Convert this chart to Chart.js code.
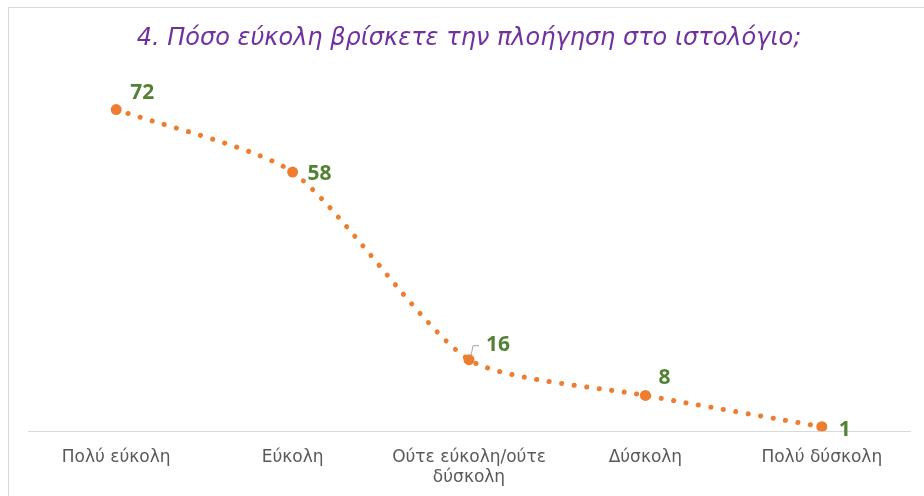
<!DOCTYPE html>
<html>
<head>
<meta charset="utf-8">
<script src="https://cdn.jsdelivr.net/npm/chart.js@4"></script>
<style>
  html, body { margin: 0; padding: 0; background: #fff; }
  #wrap { width: 924px; height: 496px; position: relative; }
</style>
</head>
<body>
<div id="wrap"><canvas id="navChart" width="924" height="496"></canvas></div>
<script>
const categories = ["Πολύ εύκολη", "Εύκολη", ["Ούτε εύκολη/ούτε", "δύσκολη"], "Δύσκολη", "Πολύ δύσκολη"];
const responses = [72, 58, 16, 8, 1];
const chartTitle = "4. Πόσο εύκολη βρίσκετε την πλοήγηση στο ιστολόγιο;";

// label nudges (dx, dy from the point), like the hand-moved labels in the original
const labelNudge = [[14, -17], [15, 2], [17, -15], [13, -17], [17, 3]];

// the chart frame is cropped: only its top and left edges show
const frameEdge = {
  id: "frameEdge",
  beforeDraw(chart) {
    const ctx = chart.ctx;
    ctx.save();
    ctx.strokeStyle = "#d9d9d9";
    ctx.lineWidth = 1;
    ctx.beginPath();
    ctx.moveTo(8.5, chart.height);
    ctx.lineTo(8.5, 7.5);
    ctx.lineTo(chart.width, 7.5);
    ctx.stroke();
    ctx.restore();
  },
};

const valueLabels = {
  id: "valueLabels",
  afterDatasetsDraw(chart) {
    const ctx = chart.ctx;
    const meta = chart.getDatasetMeta(0);
    ctx.save();
    ctx.font = "bold 21px 'Noto Sans', sans-serif";
    ctx.fillStyle = "#548235";
    ctx.textBaseline = "middle";
    ctx.textAlign = "left";
    meta.data.forEach(function (pt, i) {
      const n = labelNudge[i] || [12, -14];
      ctx.fillText(String(responses[i]), pt.x + n[0], pt.y + n[1]);
    });
    // leader line for the third label
    const p = meta.data[2];
    if (p) {
      ctx.strokeStyle = "#a6a6a6";
      ctx.lineWidth = 1;
      ctx.beginPath();
      ctx.moveTo(p.x + 2, p.y - 4);
      ctx.lineTo(p.x + 4, p.y - 14);
      ctx.lineTo(p.x + 10, p.y - 14);
      ctx.stroke();
    }
    ctx.restore();
  },
};

new Chart(document.getElementById("navChart").getContext("2d"), {
  type: "line",
  data: {
    labels: categories,
    datasets: [
      {
        data: responses,
        borderColor: "#ED7D31",
        backgroundColor: "#ED7D31",
        borderWidth: 5,
        borderDash: [0.1, 12.5],
        borderCapStyle: "round",
        tension: 0.22,
        pointRadius: 5.5,
        pointHoverRadius: 5.5,
        pointBorderWidth: 0,
        fill: false,
      },
    ],
  },
  options: {
    responsive: false,
    animation: false,
    layout: { padding: { left: 28, right: 14, top: 0, bottom: -8 } },
    plugins: {
      legend: { display: false },
      tooltip: { enabled: false },
      title: {
        display: true,
        text: chartTitle,
        color: "#7030A0",
        font: { family: "'DejaVu Sans', sans-serif", size: 24, style: "italic", weight: "normal" },
        padding: { top: 24, bottom: 21 },
      },
    },
    scales: {
      x: {
        offset: true,
        grid: { display: false, drawTicks: false },
        border: { display: true, color: "#d9d9d9", width: 1 },
        ticks: {
          color: "#595959",
          font: { family: "'DejaVu Sans', sans-serif", size: 17 },
          padding: 16,
          maxRotation: 0,
          autoSkip: false,
        },
      },
      y: {
        display: false,
        min: 0,
        max: 80,
      },
    },
  },
  plugins: [frameEdge, valueLabels],
});
</script>
</body>
</html>
